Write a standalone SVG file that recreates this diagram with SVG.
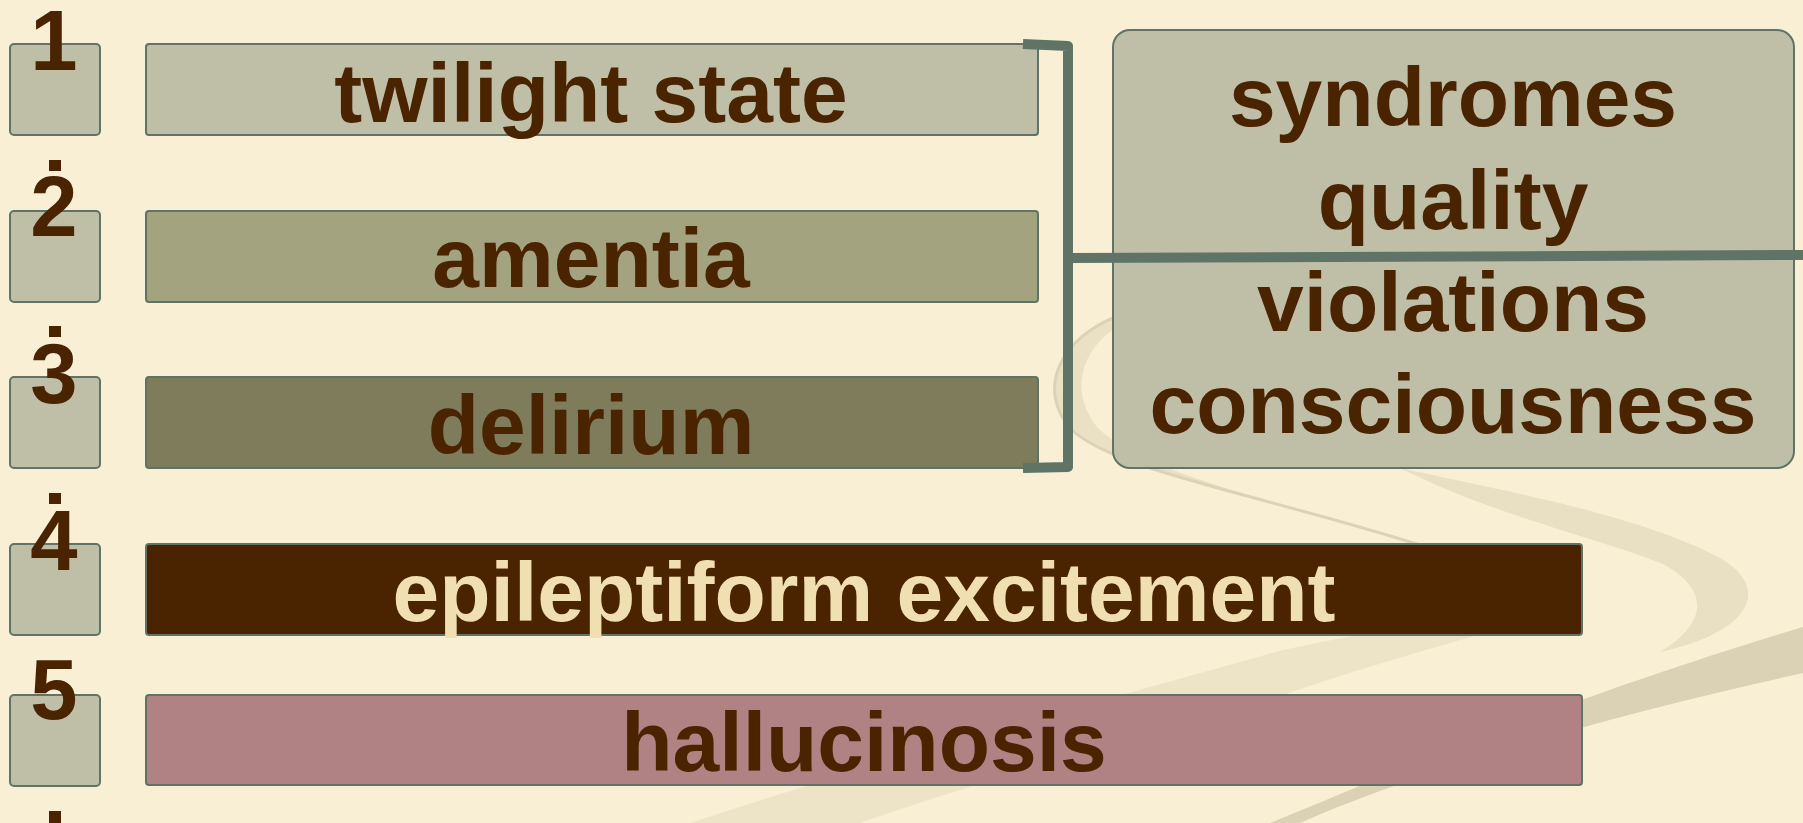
<svg xmlns="http://www.w3.org/2000/svg" width="1803" height="823" viewBox="0 0 1803 823">
<defs>
<style>
.bg{fill:#F8EFD5}
.sq{fill:#BFBFA8;stroke:#5F7466;stroke-width:2}
.bar{stroke:#5F7466;stroke-width:2}
.num{font-family:"Liberation Sans",Arial,sans-serif;font-weight:bold;font-size:85px;fill:#4A2400;text-anchor:middle}
.lbl{font-family:"Liberation Sans",Arial,sans-serif;font-weight:bold;font-size:84px;fill:#4A2400;text-anchor:middle}
.dot{fill:#4A2400}
.conn{fill:none;stroke:#5F7466;stroke-width:10;stroke-linejoin:round}
</style>
</defs>
<rect class="bg" x="0" y="0" width="1803" height="823"/>
<g id="background-swirl">
<path d="M690,823 C850,770 1050,715 1283,650 C1380,630 1470,612 1560,595 L1560,612 C1460,640 1360,668 1283,695 C1100,745 950,792 860,823 Z" fill="#EDE3C6"/>
<path d="M1270,823 C1400,770 1560,700 1803,627 L1803,673 C1600,718 1420,770 1300,823 Z" fill="#DBD1B4"/>
<path d="M1400,468 C1500,490 1640,515 1720,558 C1772,588 1752,632 1660,652 C1705,625 1712,592 1665,565 C1600,538 1500,518 1400,468 Z" fill="#E9DFC2"/>
<path d="M1118,316 C1060,338 1035,390 1072,430 C1115,470 1250,492 1420,545 C1260,498 1140,470 1098,428 C1070,395 1078,352 1118,326 Z" fill="#EAE0C3"/>
<path d="M1118,316 C1060,338 1035,390 1072,430 C1115,470 1250,492 1420,545" fill="none" stroke="#DCD2B5" stroke-width="3"/>
</g>
<g id="marker-1"><rect class="sq" x="10" y="44" width="90" height="91" rx="4"/><text class="num" x="54" y="70">1</text><rect class="dot" x="49" y="160" width="12" height="11"/></g>
<g id="marker-2"><rect class="sq" x="10" y="211" width="90" height="91" rx="4"/><text class="num" x="54" y="236">2</text><rect class="dot" x="49" y="326" width="12" height="11"/></g>
<g id="marker-3"><rect class="sq" x="10" y="377" width="90" height="91" rx="4"/><text class="num" x="54" y="403">3</text><rect class="dot" x="49" y="493" width="12" height="11"/></g>
<g id="marker-4"><rect class="sq" x="10" y="544" width="90" height="91" rx="4"/><text class="num" x="54" y="570">4</text></g>
<g id="marker-5"><rect class="sq" x="10" y="695" width="90" height="91" rx="4"/><text class="num" x="54" y="719">5</text><rect class="dot" x="49" y="811" width="12" height="12"/></g>
<g id="twilight-state"><rect class="bar" x="146" y="44" width="892" height="91" rx="3" fill="#BFBFA8"/><text class="lbl" x="591" y="122">twilight state</text></g>
<g id="amentia"><rect class="bar" x="146" y="211" width="892" height="91" rx="3" fill="#A3A380"/><text class="lbl" x="591" y="287">amentia</text></g>
<g id="delirium"><rect class="bar" x="146" y="377" width="892" height="91" rx="3" fill="#7E7C5A"/><text class="lbl" x="591" y="454">delirium</text></g>
<g id="epileptiform-excitement"><rect class="bar" x="146" y="544" width="1436" height="91" rx="3" fill="#4A2400"/><text class="lbl" x="864" y="621" style="fill:#F0DFB1">epileptiform excitement</text></g>
<g id="hallucinosis"><rect class="bar" x="146" y="695" width="1436" height="90" rx="3" fill="#B08284"/><text class="lbl" x="864" y="771">hallucinosis</text></g>
<g id="syndromes-box"><rect class="sq" x="1113" y="30" width="681" height="438" rx="17"/>
<text class="lbl" x="1453" y="126">syndromes</text>
<text class="lbl" x="1453" y="229">quality</text>
<text class="lbl" x="1453" y="331">violations</text>
<text class="lbl" x="1453" y="433">consciousness</text></g>
<g id="connectors">
<path class="conn" d="M1023,44 L1068,46 L1068,467 L1023,468"/>
<path class="conn" d="M1068,258 L1803,255" stroke-width="9"/>
</g>
</svg>
